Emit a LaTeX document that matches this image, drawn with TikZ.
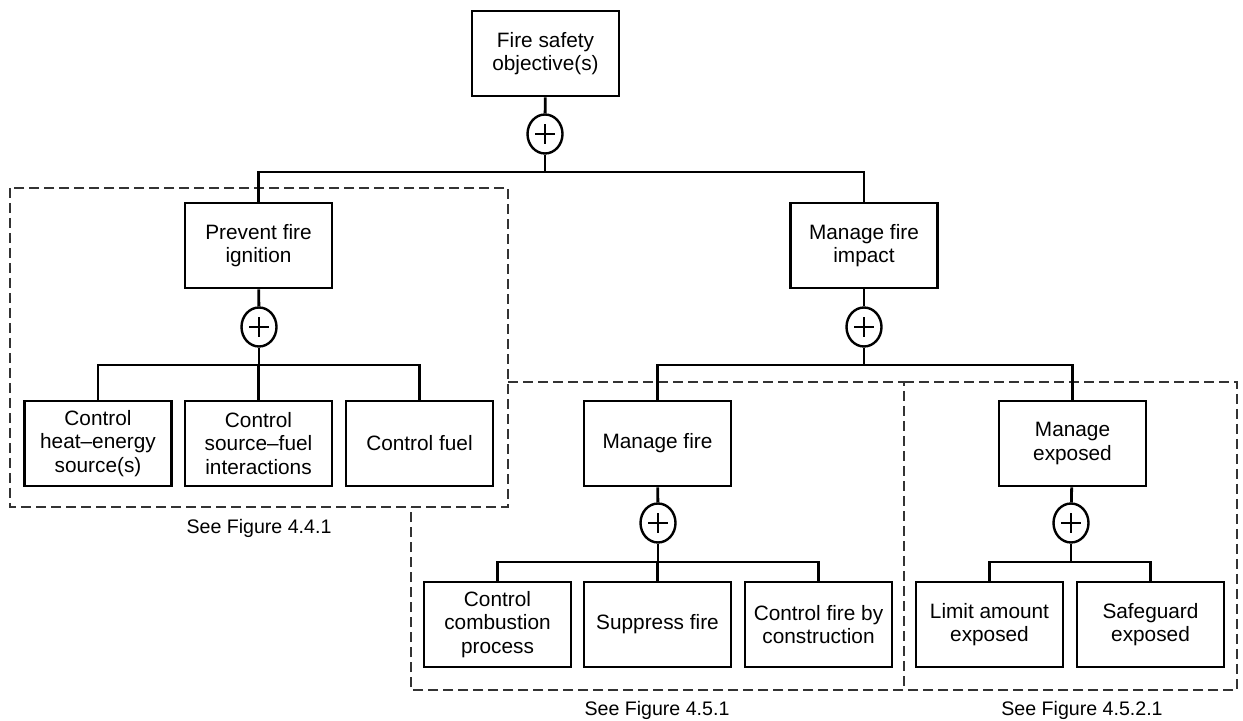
\documentclass[tikz,border=0pt]{standalone}
\usepackage{fontspec}
\setmainfont{Liberation Sans}
\usetikzlibrary{shapes.geometric}

\tikzset{
  goalbox/.style={draw, line width=1.35pt, minimum width=73.5pt, minimum height=42.5pt,
    inner sep=0pt, align=center, font=\fontsize{10.4}{11.7}\selectfont},
  orgate/.style={draw, ellipse, line width=1.2pt, minimum width=17.5pt, minimum height=19.5pt, inner sep=0pt,
    path picture={
      \draw[line width=1.3pt] ([xshift=-4.9pt]path picture bounding box.center) -- ([xshift=4.9pt]path picture bounding box.center);
      \draw[line width=1.3pt] ([yshift=-4.9pt]path picture bounding box.center) -- ([yshift=4.9pt]path picture bounding box.center);
    }},
  link/.style={line width=1.4pt},
  region/.style={line width=1.2pt, dash pattern=on 5pt off 2.5pt, black!80},
  seefig/.style={font=\fontsize{9.8}{11}\selectfont}
}

\begin{document}
\begin{tikzpicture}[x=0.5pt, y=-0.5pt]
    \useasboundingbox (0,0) rectangle (1243,721); % keeps the page the size of the figure

    % dashed regions (they share their edges)
    \draw[region] (10,188) rectangle (508,507);
    \draw[region] (508,382) -- (904,382) -- (904,690) -- (411,690) -- (411,507);
    \draw[region] (904,382) -- (1237,382) -- (1237,690) -- (904,690);

    % objective tree
    \node[goalbox] (objective) at (545.5,53.5) {Fire safety\\objective(s)};
    \node[orgate] (orTop) at (545,134) {};
    \coordinate (barTop) at (545,172);

    \node[goalbox] (prevent) at (258.5,245.5) {Prevent fire\\ignition};
    \node[goalbox] (impact) at (864,245.5) {Manage fire\\impact};
    \node[orgate] (orPrevent) at (259,327) {};
    \node[orgate] (orImpact) at (864,327) {};
    \coordinate (barPrevent) at (259,365);
    \coordinate (barImpact) at (864,365);

    \node[goalbox] (heatsource) at (98,443.5) {Control\\heat–energy\\source(s)};
    \node[goalbox] (sourcefuel) at (258.5,443.5) {Control\\source–fuel\\interactions};
    \node[goalbox] (fuel) at (419.5,443.5) {Control fuel};

    \node[goalbox] (managefire) at (657.5,443.5) {Manage fire};
    \node[goalbox] (exposed) at (1072.5,443.5) {Manage\\exposed};
    \node[orgate] (orFire) at (658,523) {};
    \node[orgate] (orExposed) at (1071,523) {};
    \coordinate (barFire) at (658,562);
    \coordinate (barExposed) at (1071,562);

    \node[goalbox] (combustion) at (497.5,624.5) {Control\\combustion\\process};
    \node[goalbox] (suppress) at (657.5,624.5) {Suppress fire};
    \node[goalbox] (construction) at (818.5,624.5) {Control fire by\\construction};
    \node[goalbox] (limit) at (989.5,624.5) {Limit amount\\exposed};
    \node[goalbox] (safeguard) at (1150.5,624.5) {Safeguard\\exposed};

    % references to the detailed figures
    \node[seefig] (seeIgnition) at (259,528) {See Figure 4.4.1};
    \node[seefig] (seeFire) at (657,710) {See Figure 4.5.1};
    \node[seefig] (seeExposed) at (1082,710) {See Figure 4.5.2.1};

    % connectors: parent -- gate -- bar -- children
    \foreach \parent/\gate/\bar in {objective/orTop/barTop, prevent/orPrevent/barPrevent,
        impact/orImpact/barImpact, managefire/orFire/barFire, exposed/orExposed/barExposed}{
        \draw[link] (\parent) -- (\gate);
        \draw[link] (\gate) -- (\bar);
    }
    \foreach \child/\bar in {prevent/barTop, impact/barTop,
        heatsource/barPrevent, sourcefuel/barPrevent, fuel/barPrevent,
        managefire/barImpact, exposed/barImpact,
        combustion/barFire, suppress/barFire, construction/barFire,
        limit/barExposed, safeguard/barExposed}{
        \draw[link] (\child.north) |- (\bar);
    }
\end{tikzpicture}
\end{document}
